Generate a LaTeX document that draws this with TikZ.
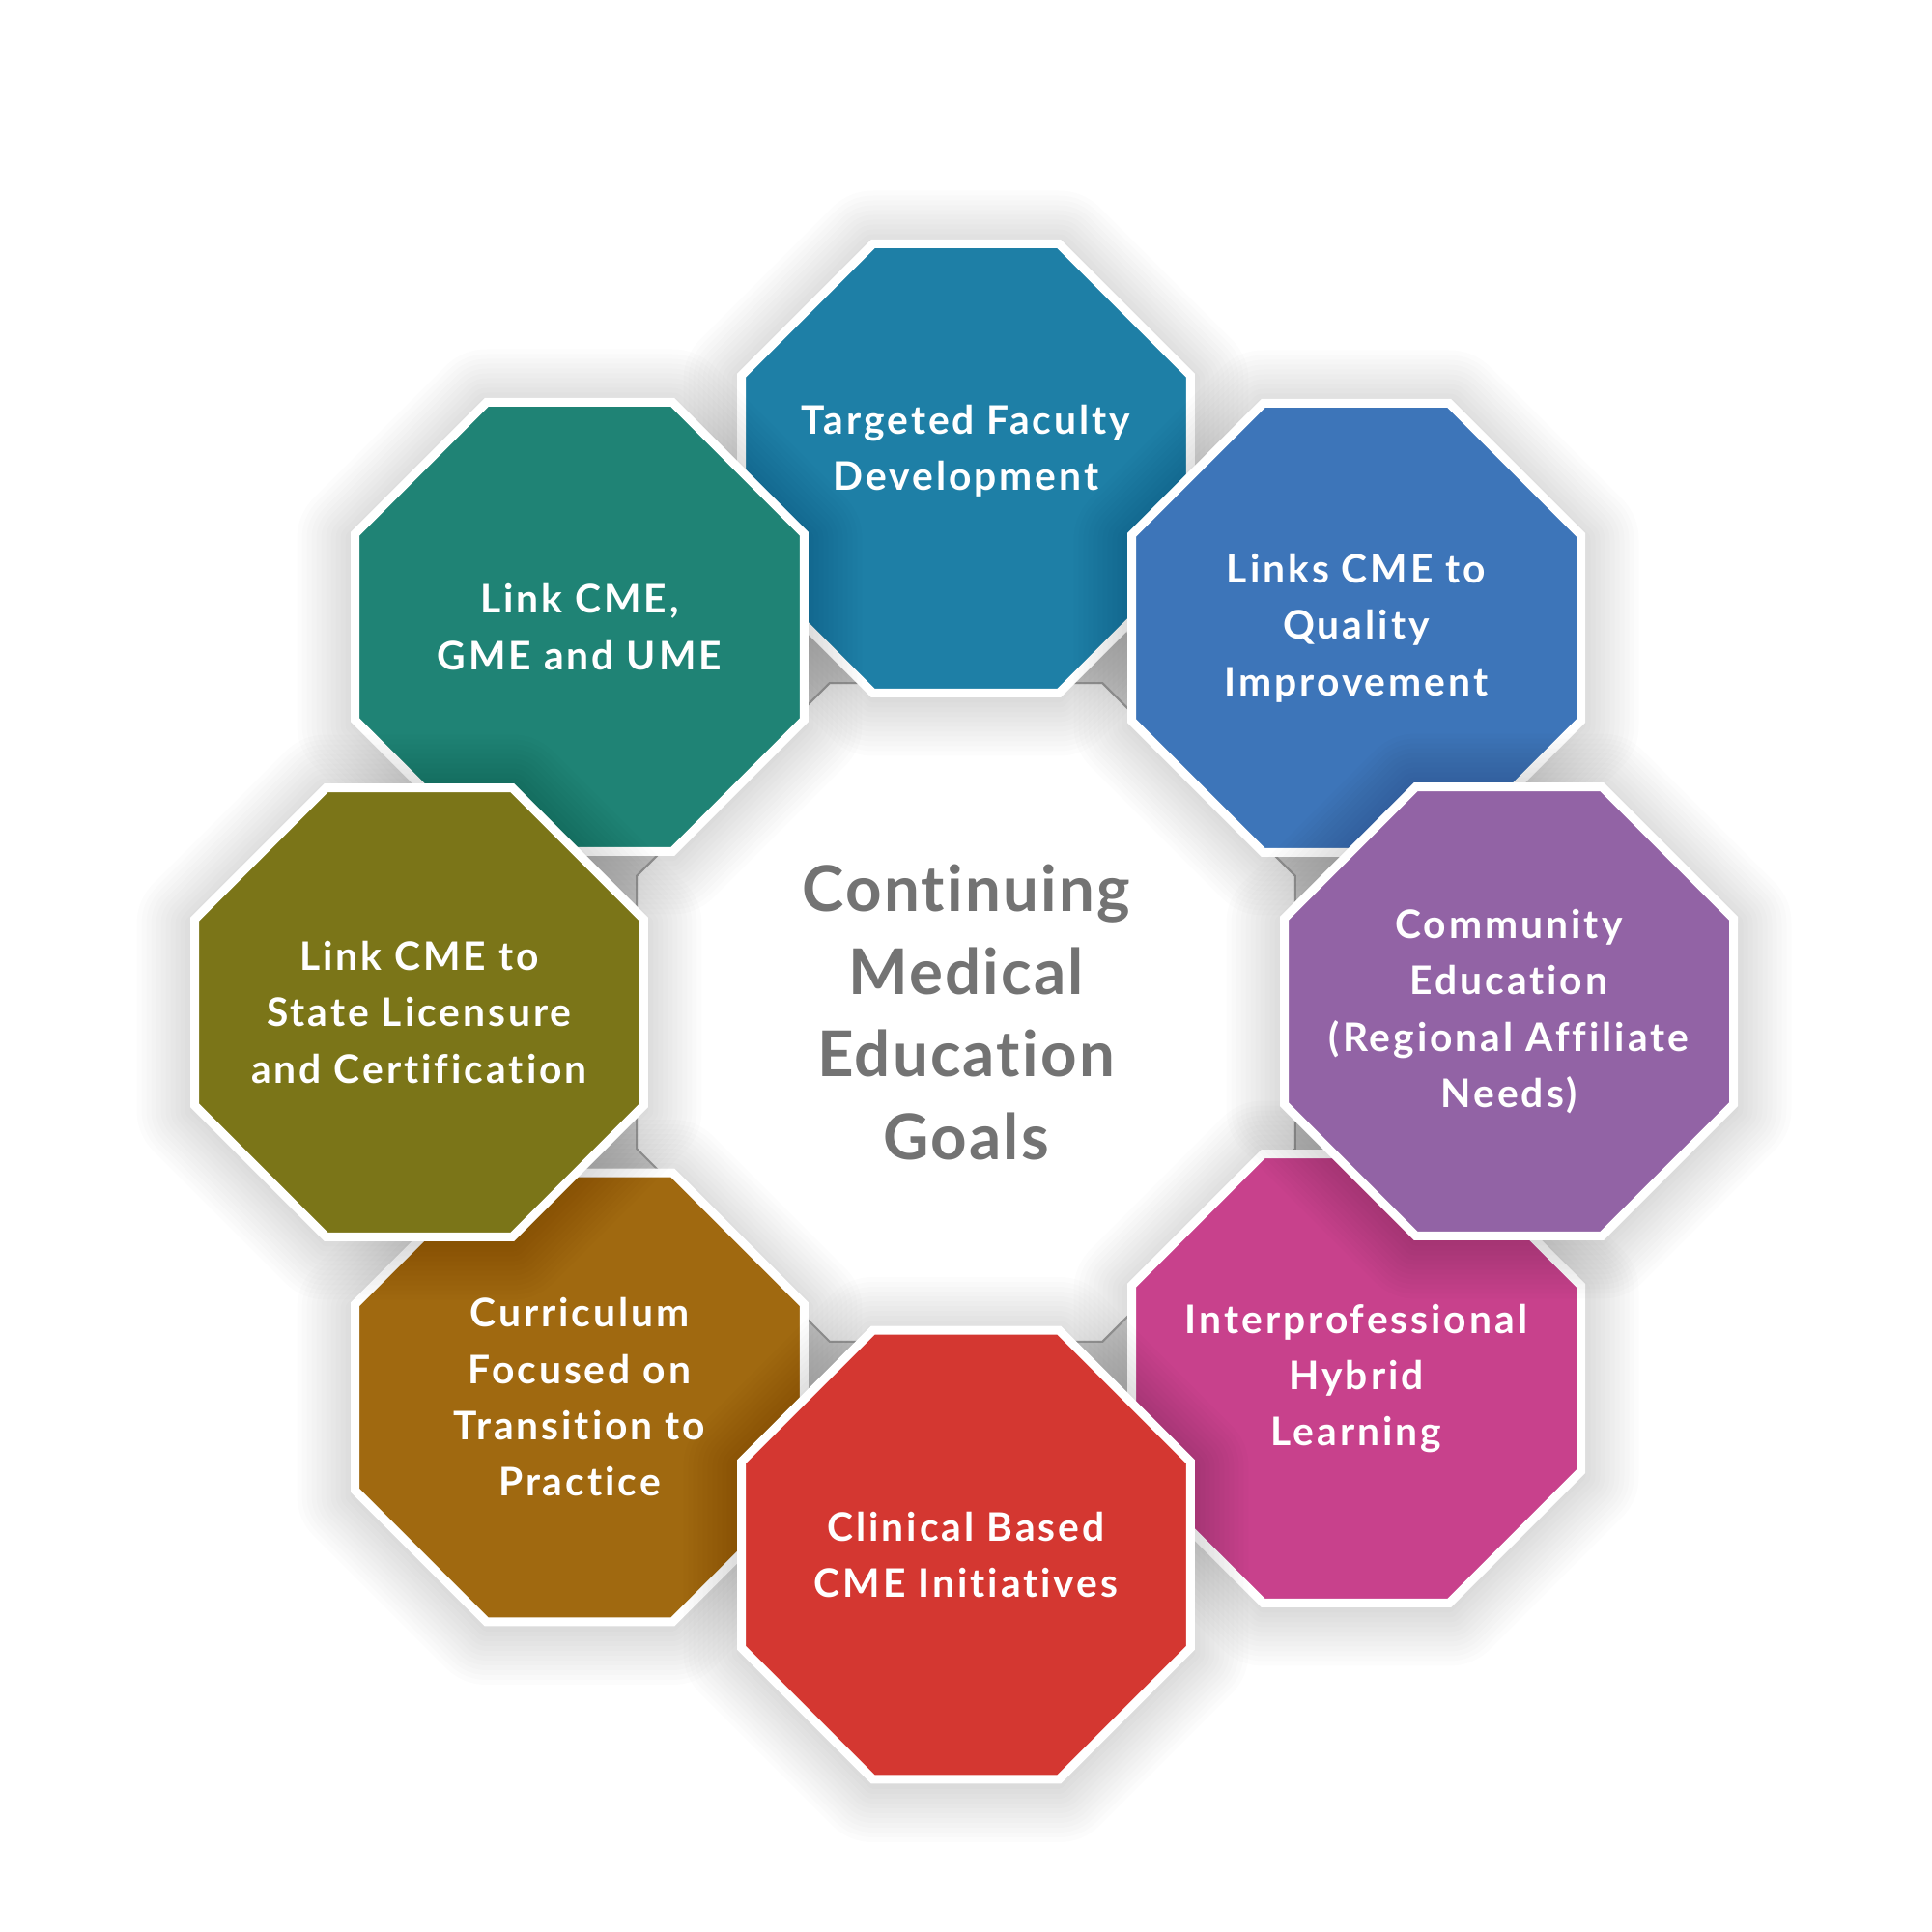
\documentclass[tikz,border=0pt]{standalone}
\usepackage{fontspec}
\setmainfont{Lato}[Ligatures=CommonOff]
\newfontfamily\goalfont{Lato}[LetterSpace=7.3, Ligatures=CommonOff]
\newfontfamily\cmefont{Lato}[LetterSpace=3.4, Ligatures=CommonOff]
\usetikzlibrary{shapes.geometric}

\definecolor{tfdblue}{HTML}{1E7FA6}
\definecolor{qualblue}{HTML}{3D75B9}
\definecolor{compurple}{HTML}{9263A5}
\definecolor{ipmagenta}{HTML}{C8418C}
\definecolor{clinred}{HTML}{D43731}
\definecolor{curbrown}{HTML}{A06910}
\definecolor{stateolive}{HTML}{7B7518}
\definecolor{gmeteal}{HTML}{1F8375}
\definecolor{ringgray}{HTML}{DCDCDC}
\definecolor{edgegray}{HTML}{A6A6A6}
\definecolor{goaltext}{HTML}{737373}

\pgfdeclareradialshading{centershade}{\pgfpoint{0bp}{0bp}}{color(0bp)=(white); color(30bp)=(white); color(50bp)=(gray!25); color(56bp)=(gray!32)}

\tikzset{
	octa/.style={regular polygon, regular polygon sides=8, minimum size=5.033cm, inner sep=0pt},
	goal/.style={octa, fill=#1, draw=white, line width=0.9mm},
	goallabel/.style={text=white, align=center, inner sep=0pt,
		font=\goalfont\bfseries\fontsize{11.6}{16.6}\selectfont},
	octshadow/.style={octa, draw=black, draw opacity=0.012, line join=round},
}

\newcommand{\dropshadow}[1]{%
	\foreach \w in {1,...,12}
		\node[octshadow, line width=\w*1mm] at ([yshift=-0.5mm]#1) {};
}

\begin{document}
\begin{tikzpicture}

\useasboundingbox (0,0) rectangle (20,20);
\fill[white] (0,0) rectangle (20,20);

% positions
\coordinate (pc) at (10,9.52);
\coordinate (ptfd) at (10,15.15);
\coordinate (pqual) at (14.04,13.50);
\coordinate (pcom) at (15.62,9.53);
\coordinate (pip) at (14.04,5.73);
\coordinate (pclin) at (10,3.905);
\coordinate (pcur) at (6.0,5.535);
\coordinate (pstate) at (4.34,9.52);
\coordinate (pgme) at (6.0,13.51);

% centre
\node[octa, minimum size=8.56cm, fill=ringgray] (ring) at (pc) {};
\node[octa, minimum size=7.38cm, shade, shading=centershade, draw=edgegray, line width=0.2mm,
	label={[text=goaltext, align=center, font=\cmefont\bfseries\fontsize{18.6}{24.4}\selectfont]
	center:{Continuing\\Medical\\Education\\Goals}}] (cme) at (pc) {};

% goals, lowest first
\dropshadow{ptfd}
\node[goal=tfdblue, label={[goallabel, yshift=1.8mm]center:{Targeted Faculty\\Development}}] (tfd) at (ptfd) {};
\dropshadow{pqual}
\node[goal=qualblue, label={[goallabel]center:{Links CME to\\Quality\\Improvement}}] (qual) at (pqual) {};
\dropshadow{pgme}
\node[goal=gmeteal, label={[goallabel]center:{Link CME,\\GME and UME}}] (gme) at (pgme) {};
\dropshadow{pip}
\node[goal=ipmagenta, label={[goallabel]center:{Interprofessional\\Hybrid\\Learning}}] (ip) at (pip) {};
\dropshadow{pcur}
\node[goal=curbrown, label={[goallabel]center:{Curriculum\\Focused on\\Transition to\\Practice}}] (cur) at (pcur) {};
\dropshadow{pcom}
\node[goal=compurple, label={[goallabel]center:{Community\\Education\\(Regional Affiliate\\Needs)}}] (com) at (pcom) {};
\dropshadow{pclin}
\node[goal=clinred, label={[goallabel]center:{Clinical Based\\CME Initiatives}}] (clin) at (pclin) {};
\dropshadow{pstate}
\node[goal=stateolive, label={[goallabel]center:{Link CME to\\State Licensure\\and Certification}}] (state) at (pstate) {};

\end{tikzpicture}
\end{document}
